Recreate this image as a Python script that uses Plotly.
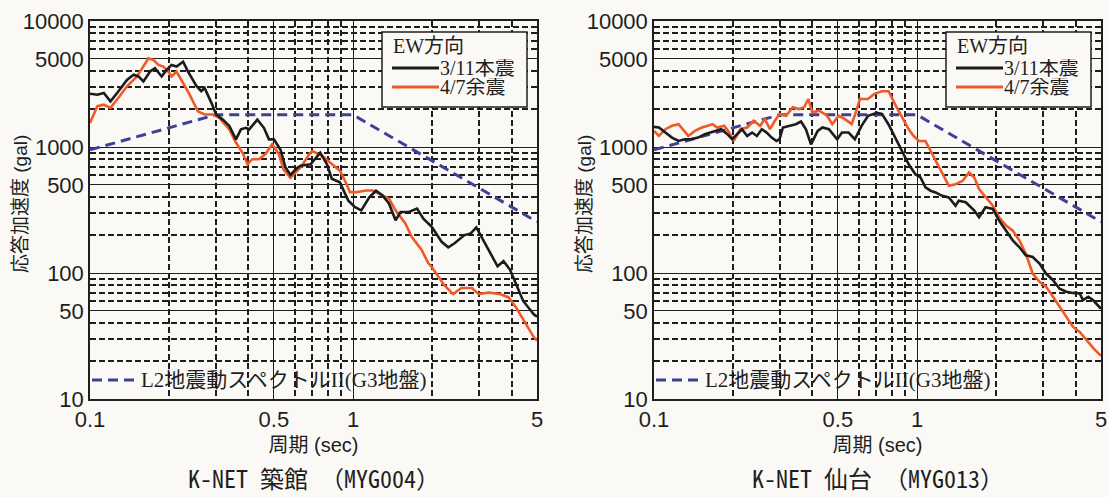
import plotly.graph_objects as go

# ---------------- data ----------------
# K-NET 築館 (MYG004)
t_l_main = [0.100, 0.1066, 0.1129, 0.1196, 0.1268, 0.1382, 0.1464, 0.1529, 0.1596, 0.1692, 0.1766, 0.1872,
            0.1955, 0.2042, 0.2132, 0.2259, 0.2358, 0.2537, 0.2647, 0.2726, 0.2891, 0.3016, 0.3195, 0.3386,
            0.3587, 0.3747, 0.3914, 0.4028, 0.4325, 0.4582, 0.4787, 0.500, 0.530, 0.553, 0.578, 0.612,
            0.632, 0.689, 0.750, 0.795, 0.830, 0.890, 0.958, 1.014, 1.074, 1.154, 1.222, 1.294, 1.370,
            1.450, 1.515, 1.630, 1.750, 1.850, 1.990, 2.170, 2.300, 2.430, 2.650, 2.800, 2.940, 3.120,
            3.330, 3.540, 3.730, 3.950, 4.430, 4.860, 5.000]
sa_l_main = [2650, 2600, 2680, 2300, 2680, 3400, 3740, 3630, 3310, 3970, 4220, 3630,
             4090, 4480, 4350, 4760, 3970, 3050, 2770, 2940, 2250, 1810, 1650, 1470,
             1150, 1380, 1420, 1380, 1650, 1420, 1150, 1150, 950, 690, 600, 680,
             710, 730, 900, 730, 560, 525, 377, 334, 314, 400, 450, 412, 355,
             262, 305, 305, 324, 270, 233, 177, 160, 172, 200, 206, 230, 183,
             144, 113, 124, 106, 60, 47, 45]
t_l_after = [0.100, 0.1066, 0.1129, 0.1196, 0.1268, 0.1382, 0.1508, 0.1596, 0.1668, 0.1742, 0.182, 0.190,
             0.1983, 0.2042, 0.2132, 0.2259, 0.2392, 0.2571, 0.2726, 0.293, 0.310, 0.3386, 0.3587, 0.380,
             0.397, 0.414, 0.4385, 0.4646, 0.4924, 0.522, 0.544, 0.578, 0.612, 0.637, 0.680, 0.700,
             0.762, 0.818, 0.892, 0.944, 0.972, 1.029, 1.121, 1.187, 1.257, 1.370, 1.450, 1.580,
             1.670, 1.820, 1.930, 2.000, 2.220, 2.400, 2.580, 2.830, 3.000, 3.280, 3.620, 3.900,
             4.170, 4.570, 4.860, 5.000]
sa_l_after = [1550, 2110, 2165, 2045, 2380, 3030, 3630, 4350, 5060, 4910, 4480, 4350,
              3970, 3630, 3970, 3220, 2600, 1920, 1810, 1810, 1700, 1380, 1085, 900,
              730, 800, 800, 880, 1050, 880, 665, 570, 645, 705, 876, 930,
              850, 753, 648, 509, 438, 438, 451, 451, 425, 388, 314, 247,
              194, 153, 120, 110, 80, 68, 76, 76, 68, 70, 68, 64,
              53, 38, 31, 29]

# K-NET 仙台 (MYG013)
t_r_main = [0.100, 0.1044, 0.1105, 0.117, 0.124, 0.131, 0.139, 0.147, 0.156, 0.170, 0.180, 0.190,
            0.198, 0.204, 0.216, 0.226, 0.236, 0.246, 0.257, 0.268, 0.280, 0.292, 0.300, 0.309,
            0.328, 0.346, 0.362, 0.378, 0.395, 0.419, 0.437, 0.462, 0.497, 0.518, 0.549, 0.580,
            0.615, 0.651, 0.703, 0.735, 0.779, 0.826, 0.876, 0.929, 0.985, 1.030, 1.076, 1.125,
            1.175, 1.246, 1.320, 1.400, 1.440, 1.530, 1.650, 1.720, 1.820, 1.940, 2.050, 2.180,
            2.310, 2.450, 2.590, 2.750, 2.920, 3.090, 3.280, 3.480, 3.690, 3.910, 4.150, 4.270,
            4.470, 4.660, 4.870, 5.000]
sa_r_main = [1445, 1428, 1302, 1188, 1117, 1152, 1152, 1188, 1263, 1342, 1384, 1263,
             1152, 1224, 1384, 1224, 1302, 1224, 1384, 1302, 1188, 1117, 1152, 1428,
             1472, 1518, 1594, 1384, 1050, 1342, 1428, 1384, 1152, 1302, 1302, 1152,
             1472, 1770, 1866, 1833, 1510, 1185, 930, 730, 608, 573, 478, 450,
             436, 410, 398, 342, 375, 364, 313, 277, 332, 322, 261, 217,
             181, 160, 138, 134, 119, 99, 88, 75, 71, 69.5, 68.8, 61,
             64.8, 61, 55.6, 52]
t_r_after = [0.100, 0.1044, 0.1105, 0.117, 0.124, 0.131, 0.135, 0.143, 0.152, 0.160, 0.167, 0.174,
             0.185, 0.193, 0.201, 0.213, 0.226, 0.239, 0.253, 0.264, 0.276, 0.288, 0.300, 0.318,
             0.337, 0.356, 0.372, 0.386, 0.400, 0.424, 0.455, 0.476, 0.503, 0.532, 0.564, 0.588,
             0.606, 0.650, 0.688, 0.735, 0.779, 0.826, 0.876, 0.929, 0.971, 1.015, 1.076, 1.125,
             1.175, 1.246, 1.320, 1.400, 1.490, 1.575, 1.650, 1.720, 1.820, 1.940, 2.050, 2.180,
             2.310, 2.450, 2.590, 2.750, 2.920, 3.090, 3.280, 3.480, 3.690, 3.910, 4.150, 4.400,
             4.700, 5.000]
sa_r_after = [1342, 1224, 1384, 1472, 1518, 1302, 1224, 1342, 1428, 1472, 1518, 1428,
              1472, 1302, 1117, 1384, 1428, 1614, 1472, 1665, 1384, 1614, 1826, 1770,
              2065, 2000, 2065, 2405, 1883, 1942, 1770, 1518, 1770, 1665, 1518, 1942,
              2405, 2405, 2640, 2770, 2770, 2170, 1705, 1380, 1222, 1115, 1115, 930,
              775, 608, 492, 507, 539, 627, 573, 463, 398, 342, 277, 238,
              217, 181, 142, 99, 85, 78, 65, 54, 45, 37.5, 34, 29.4,
              25, 22]

# L2地震動スペクトルII (G3地盤)
t_l2 = [0.1, 0.3, 1.0, 5.0]
sa_l2 = [950, 1800, 1800, 255]

# axis ticks
x_major = [0.1, 0.5, 1, 5]
x_major_text = ["0.1", "0.5", "1", "5"]
x_minor = [0.2, 0.3, 0.4, 0.6, 0.7, 0.8, 0.9, 2, 3, 4]
y_major = [10, 50, 100, 500, 1000, 5000, 10000]
y_major_text = ["10", "50", "100", "500", "1000", "5000", "10000"]
y_minor = [20, 30, 40, 60, 70, 80, 90, 200, 300, 400, 600, 700, 800, 900,
           2000, 3000, 4000, 6000, 7000, 8000, 9000]

# legend / title texts
legend_title = "EW方向"
name_main = "3/11本震"
name_after = "4/7余震"
name_l2 = "L2地震動スペクトルII(G3地盤)"
x_title = "周期 (sec)"
y_title = "応答加速度 (gal)"

panels = [
    ("K-NET 築館 （MYG004）", t_l_main, sa_l_main, t_l_after, sa_l_after),
    ("K-NET 仙台 （MYG013）", t_r_main, sa_r_main, t_r_after, sa_r_after),
]

# ---------------- style ----------------
BG = "#faf9f5"
INK = "#1e1e1e"
BLACK = "#1c1c1c"
ORANGE = "#f05a28"
BLUE = "#3d4196"
SANS = "Liberation Sans, Arial, Noto Sans CJK JP"
SERIF = "Liberation Serif, Times New Roman, Noto Sans CJK JP"
JP = "Liberation Sans, Noto Sans CJK JP"
MONO = "Noto Sans Mono CJK JP, Liberation Mono, Noto Sans CJK JP"

W, H = 1109, 497
plot_top, plot_bot = 21, 399
x_domains = [(90, 537), (654, 1101)]


def px_x(xp):
    return xp / W


def px_y(yp):
    return (plot_bot - yp) / (plot_bot - plot_top)


fig = go.Figure()

for i, (title, tm, sm, ta, sa) in enumerate(panels):
    n = "" if i == 0 else str(i + 1)
    xa, ya = "x" + n, "y" + n
    fig.add_trace(go.Scatter(x=t_l2, y=sa_l2, mode="lines", name=name_l2,
                             line=dict(color=BLUE, width=3, dash="10px,6px"),
                             xaxis=xa, yaxis=ya, showlegend=False))
    fig.add_trace(go.Scatter(x=ta, y=sa, mode="lines", name=name_after,
                             line=dict(color=ORANGE, width=2.6),
                             xaxis=xa, yaxis=ya, showlegend=False))
    fig.add_trace(go.Scatter(x=tm, y=sm, mode="lines", name=name_main,
                             line=dict(color=BLACK, width=2.6),
                             xaxis=xa, yaxis=ya, showlegend=False))

    x0, x1 = x_domains[i]
    axis_common = dict(showline=True, mirror=True, linecolor=INK, linewidth=1.5,
                       ticks="", zeroline=False, automargin=False, ticklabeloverflow="allow",
                       showgrid=True, gridcolor=INK, gridwidth=1.3,
                       tickfont=dict(family=SANS, size=22, color=INK))
    fig.update_layout(**{
        "xaxis" + n: dict(axis_common, type="log", domain=[x0 / W, x1 / W], anchor=ya,
                          range=[-1, 0.69897], tickmode="array", tickvals=x_major, ticktext=x_major_text,
                          minor=dict(tickmode="array", tickvals=x_minor, showgrid=True, gridcolor=INK,
                                     gridwidth=1.5, griddash="6px,3px", ticks=""),
                          title=dict(text=x_title, standoff=7,
                                     font=dict(family=JP, size=20, color=INK))),
        "yaxis" + n: dict(axis_common, type="log", domain=[0, 1], anchor=xa,
                          range=[1, 4], tickmode="array", tickvals=y_major, ticktext=y_major_text,
                          minor=dict(tickmode="array", tickvals=y_minor, showgrid=True, gridcolor=INK,
                                     gridwidth=1.5, griddash="6px,3px", ticks="")),
    })

    # y-axis title
    fig.add_annotation(text=y_title, xref="paper", yref="paper", textangle=-90,
                       x=px_x(x0 - 69), y=px_y(204), xanchor="center", yanchor="middle",
                       showarrow=False, font=dict(family=JP, size=19, color=INK))
    # station caption
    fig.add_annotation(text=title, xref="paper", yref="paper",
                       x=(x0 + x1) / 2 / W, y=px_y(477),
                       xanchor="center", yanchor="middle", showarrow=False,
                       font=dict(family=MONO, size=24, color=INK))

    # boxed legend (EW方向)
    bx0 = x1 - 155
    by0, by1 = 32, 107
    fig.add_shape(type="rect", xref="paper", yref="paper",
                  x0=px_x(bx0), x1=px_x(bx0 + 145), y0=px_y(by1), y1=px_y(by0),
                  line=dict(color=INK, width=1.5), fillcolor=BG, layer="above")
    fig.add_annotation(text=legend_title, xref="paper", yref="paper",
                       x=px_x(bx0 + 9), y=px_y(46), xanchor="left", yanchor="middle",
                       showarrow=False, font=dict(family=SERIF, size=20, color=INK))
    for ypx, col, lab in [(68, BLACK, name_main), (87, ORANGE, name_after)]:
        fig.add_shape(type="line", xref="paper", yref="paper",
                      x0=px_x(bx0 + 10), x1=px_x(bx0 + 57), y0=px_y(ypx), y1=px_y(ypx),
                      line=dict(color=col, width=3), layer="above")
        fig.add_annotation(text=lab, xref="paper", yref="paper",
                           x=px_x(bx0 + 57), y=px_y(ypx), xanchor="left", yanchor="middle",
                           height=18, borderpad=0,
                           showarrow=False, font=dict(family=SERIF, size=20, color=INK))

    # L2 legend (no box)
    fig.add_shape(type="line", xref="paper", yref="paper",
                  x0=px_x(x0 + 2), x1=px_x(x0 + 48), y0=px_y(380), y1=px_y(380),
                  line=dict(color=BLUE, width=3, dash="10px,6px"), layer="above")
    fig.add_annotation(text=name_l2, xref="paper", yref="paper",
                       x=px_x(x0 + 49), y=px_y(380), xanchor="left", yanchor="middle",
                       showarrow=False, font=dict(family=SERIF, size=21, color=INK))

fig.update_layout(
    width=W, height=H,
    margin=dict(l=0, r=0, t=plot_top, b=H - plot_bot),
    paper_bgcolor=BG, plot_bgcolor=BG,
    showlegend=False,
)

fig.write_html(
    "out.html",
    config={"displayModeBar": False},
    post_script="document.body.style.margin='0px';document.body.style.overflow='hidden';"
                "document.body.style.background='" + BG + "';",
)
